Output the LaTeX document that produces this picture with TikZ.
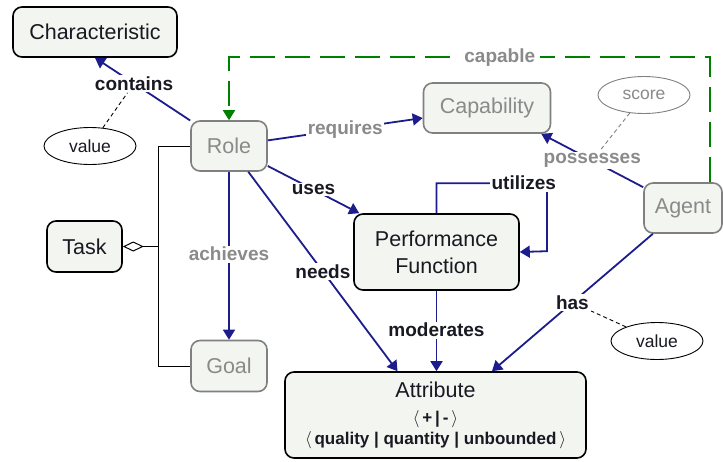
\documentclass[tikz,border=0pt]{standalone}
\usepackage{fontspec}
\setmainfont{Liberation Sans}
\usetikzlibrary{arrows.meta,shapes.geometric}
\definecolor{navyc}{RGB}{28,28,140}
\definecolor{grayt}{RGB}{138,138,138}
\definecolor{grayb}{RGB}{128,128,128}
\definecolor{boxfill}{RGB}{243,245,240}
\definecolor{greenc}{RGB}{0,128,0}
\definecolor{inkc}{RGB}{25,25,35}
\begin{document}
\begin{tikzpicture}[x=1pt,y=-1pt,
 box/.style={draw=black, line width=1.6pt, fill=boxfill, rounded corners=9pt,
   font=\fontsize{21.5}{27}\selectfont, text=inkc, inner sep=0pt, align=center},
 gbox/.style={box, draw=grayb, text=grayt},
 arr/.style={draw=navyc, line width=1.8pt, -{Triangle[length=10pt,width=12pt]}},
 lbl/.style={fill=white, inner sep=1.5pt, font=\fontsize{19}{22}\selectfont\bfseries, text=inkc},
 glbl/.style={lbl, text=grayt},
 oval/.style={ellipse, draw=black, line width=0.9pt, fill=white, minimum width=92pt,
   minimum height=37pt, inner sep=0pt, font=\fontsize{17.5}{20}\selectfont, text=inkc},
 smalldash/.style={line width=0.9pt, dash pattern=on 4pt off 3pt},
]
\useasboundingbox (0,0) rectangle (723,461);

% nodes
\node[box, minimum width=164pt, minimum height=50pt] (char) at (95,32) {Characteristic};
\node[gbox, minimum width=76pt, minimum height=50pt] (role) at (229,146) {Role};
\node[gbox, minimum width=127pt, minimum height=50pt] (cap) at (487,108) {Capability};
\node[gbox, minimum width=78pt, minimum height=50pt] (agent) at (683,208) {Agent};
\node[box, minimum width=75pt, minimum height=51pt] (task) at (84.5,246.5) {Task};
\node[gbox, minimum width=76pt, minimum height=51pt] (goal) at (229,366) {Goal};
\node[box, minimum width=165pt, minimum height=76pt] (pf) at (436.5,252) {Performance\\Function};
\node[box, minimum width=301pt, minimum height=86pt, font=\fontsize{17}{21}\selectfont\bfseries] (attr) at (435.5,415)
  {{\fontsize{21.5}{26}\selectfont\mdseries Attribute}\\[5pt] $\langle$\,+\,|\,-\,$\rangle$\\ $\langle$\,quality | quantity | unbounded\,$\rangle$};

\node[oval] (val1) at (90,146) {value};
\node[oval, draw=grayb, text=grayt] (score) at (644,95) {score};
\node[oval] (val2) at (657,341) {value};

% task bracket
\coordinate (bx) at (158,146);
\draw[line width=1pt] (role.west) -- (bx) -- (bx |- goal.west) -- (goal.west);
\draw[line width=1pt, -{Diamond[open,length=21pt,width=10pt]}] (bx |- task.east) -- (task.east);

% connectors
\draw[arr] (role) -- node[lbl,pos=0.59] (lcont) {contains} (char.south);
\draw[arr] (role) -- node[glbl,pos=0.5] {requires} ([yshift=-10pt]cap.west);
\draw[arr] (role) -- node[lbl,pos=0.5] {uses} ([xshift=6pt]pf.north west);
\draw[arr] (role) -- node[glbl,pos=0.49] {achieves} (goal);
\draw[arr] (role) -- node[lbl,pos=0.5] {needs} ([xshift=-38pt]attr.north);
\draw[arr] (pf.south) -- node[lbl,pos=0.49] {moderates} (pf.south |- attr.north);
\draw[arr] (pf.north) -- ++(0,-30) -- node[lbl,pos=0.79] {utilizes} ++(110.5,0) -- ++(0,68) -- (pf.east);
\draw[arr] (agent) -- node[glbl,pos=0.5] (lposs) {possesses} ([xshift=-10pt]cap.south east);
\draw[arr] (agent) -- node[lbl,pos=0.5] (lhas) {has} ([xshift=56.5pt]attr.north);

\draw[greenc, line width=1.8pt, dash pattern=on 25pt off 10pt, -{Triangle[length=10pt,width=12pt]}]
  ([xshift=27pt]agent.north) -- ++(0,-125) coordinate (gc)
  -- node[glbl,pos=0.437,inner xsep=5pt] {capable} (gc -| role.north) -- (role.north);

% dashed attachments
\draw[smalldash] (val1) -- (lcont);
\draw[smalldash, grayb] (score) -- (lposs);
\draw[smalldash] (val2) -- (lhas);
\end{tikzpicture}
\end{document}
